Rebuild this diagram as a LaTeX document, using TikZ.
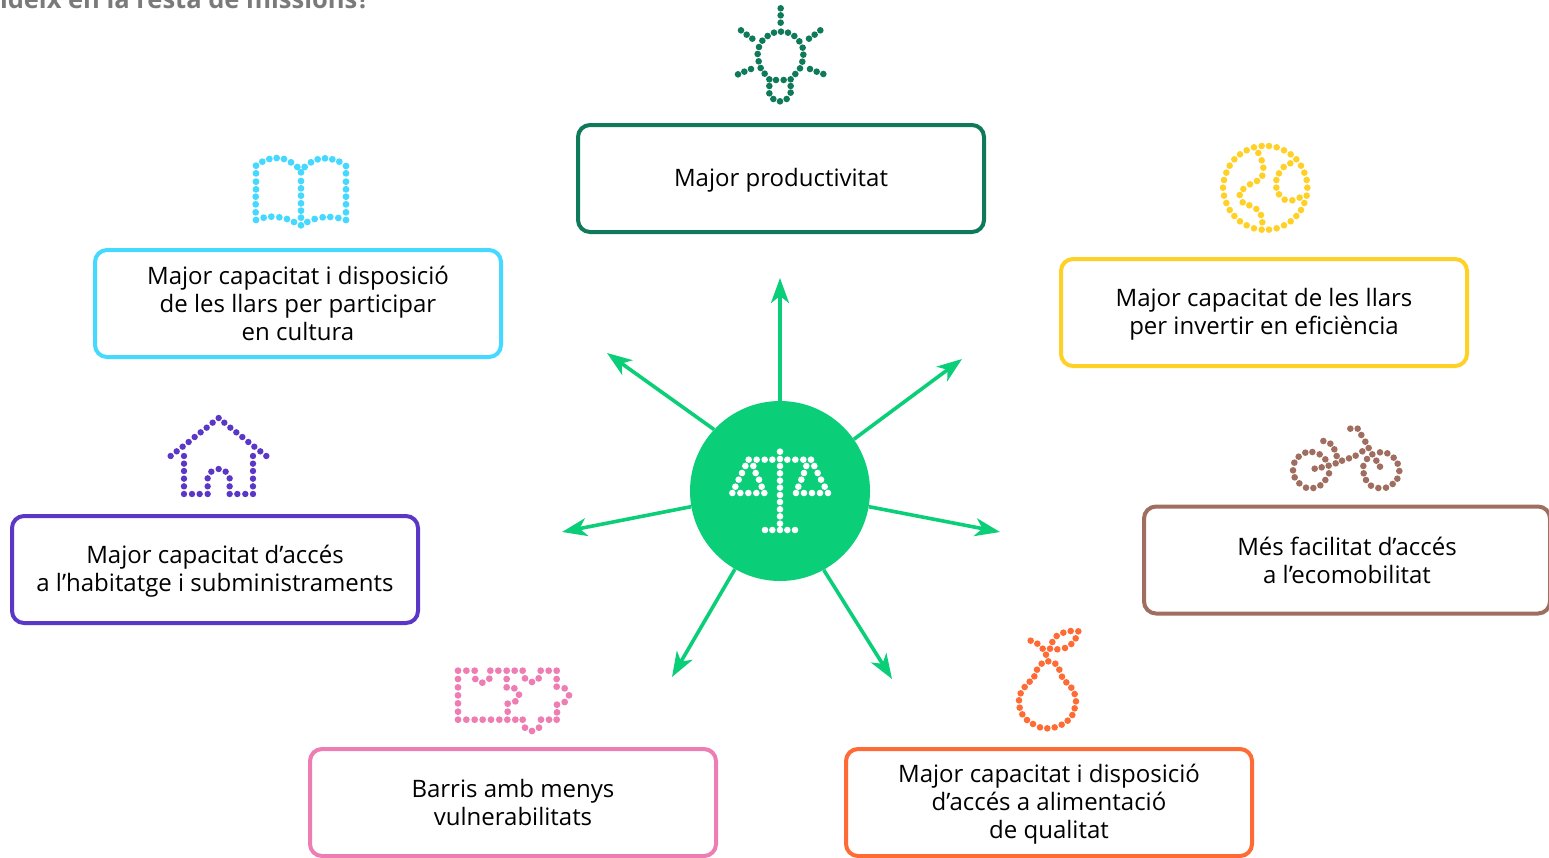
\documentclass[tikz,border=0pt]{standalone}
\usepackage{fontspec}
\setmainfont{Open Sans}
\usetikzlibrary{arrows.meta}
\definecolor{cgreen}{HTML}{0E7A5A}
\definecolor{chub}{HTML}{0BCE78}
\definecolor{ccyan}{HTML}{45D9FF}
\definecolor{cyellow}{HTML}{FFD126}
\definecolor{cbrown}{HTML}{A06E60}
\definecolor{cpurple}{HTML}{5B37C8}
\definecolor{cpink}{HTML}{EE7DB4}
\definecolor{corange}{HTML}{FF6B35}
\definecolor{ctitle}{HTML}{7A7A7A}
\newcommand{\st}{\rule[-3pt]{0pt}{24.8pt}}
\tikzset{
  box/.style={draw=#1,rectangle,rounded corners=12pt,line width=4pt,minimum width=406pt,minimum height=107pt,inner sep=0pt,align=center,text=black,font=\fontsize{24}{28}\selectfont},
  ray/.style={draw=chub,line width=3.6pt,-{Stealth[length=25pt,width=18pt,inset=7pt]}},
  hubnode/.style={circle,fill=chub,minimum size=180pt,inner sep=0pt}
}
\newcommand{\dotset}[5]{%
  \begin{scope}[shift={(#1,#2)},x=0.3333pt,y=-0.3333pt]
    \foreach \px/\py in {#5} \fill[#3] (\px,\py) circle (#4pt);
  \end{scope}}
\begin{document}
\begin{tikzpicture}[x=1pt,y=-1pt]
\clip (0,0) rectangle (1549,857);
\node[anchor=base east,text=ctitle,font=\fontsize{25.5}{28}\selectfont\bfseries] (title) at (373,8) {ideix en la resta de missions?};
\node[box=cgreen] (b1) at (781,178.5) {\st Major productivitat};
\node[box=ccyan] (b2) at (298,303.5) {\st Major capacitat i disposició\\\st de les llars per participar\\\st en cultura};
\node[box=cyellow] (b3) at (1264,312.5) {\st Major capacitat de les llars\\\st per invertir en eficiència};
\node[box=cbrown] (b4) at (1347,560) {\st Més facilitat d’accés\\\st a l’ecomobilitat};
\node[box=cpurple] (b5) at (215,569.5) {\st Major capacitat d’accés\\\st a l’habitatge i subministraments};
\node[box=cpink] (b6) at (513,802.5) {\st Barris amb menys\\\st vulnerabilitats};
\node[box=corange] (b7) at (1049,802.5) {\st Major capacitat i disposició\\\st d’accés a alimentació\\\st de qualitat};
\node[hubnode] (hub) at (780,491) {};
\coordinate (e1) at (780,278);
\coordinate (e2) at (607,353);
\coordinate (e3) at (962,359);
\coordinate (e4) at (562,532);
\coordinate (e5) at (1000,532);
\coordinate (e6) at (672,677);
\coordinate (e7) at (892,679);
\draw[ray] (hub.90.3) -- (e1);
\draw[ray] (hub.137) -- (e2);
\draw[ray] (hub.35) -- (e3);
\draw[ray] (hub.190) -- (e4);
\draw[ray] (hub.-10) -- (e5);
\draw[ray] (hub.-120) -- (e6);
\draw[ray] (hub.-61) -- (e7);
% bulb
\dotset{720}{0}{cgreen}{3.3}{182/25,182/46,182/68,63/91,80/104,97/116,301/91,284/104,267/116,54/223,73/215,93/207,270/207,290/215,310/222,183/95,162/98,143/108,127/122,117/141,113/162,116/184,122/204,134/221,148/238,168/240,191/240,212/238,226/222,240/205,247/185,250/164,248/143,238/124,223/108,204/98,148/258,148/280,160/297,180/304,200/297,212/278,212/258}
% book
\dotset{240}{145}{ccyan}{3.4}{48/62,67/50,88/42,110/39,132/42,153/52,172/66,194/66,213/52,233/43,255/40,277/43,298/50,318/63,48/85,48/110,48/133,47/155,47/178,47/202,48/225,318/85,318/110,318/133,318/155,318/178,318/202,318/225,183/82,183/108,183/130,183/152,183/175,183/197,183/218,183/241,71/218,94/215,118/217,141/222,162/231,202/231,224/222,248/217,271/216,295/219}
% globe
\dotset{1205}{135}{cyellow}{3.3}{170/33,192/33,215/37,237/46,257/58,274/73,288/92,298/113,305/135,307/158,305/182,298/204,288/225,274/243,257/259,237/271,215/280,192/284,170/284,147/280,125/271,105/259,88/243,74/225,64/204,57/182,54/158,57/135,64/113,74/92,88/73,105/58,125/46,147/37,160/54,170/76,175/98,172/122,156/138,135/148,115/162,104/180,113/202,133/211,154/222,168/240,172/262,256/85,236/96,222/115,214/135,214/158,222/178,239/194,262/196,284/188}
% bike
\dotset{1280}{420}{cbrown}{3.3}{76/98,97/96,119/103,136/118,147/160,136/180,121/196,100/204,78/203,58/190,44/172,39/151,43/128,56/110,104/146,125/142,146/137,167/130,186/122,207/115,227/107,247/94,266/84,130/63,151/71,163/88,170/108,211/26,233/26,244/45,256/65,277/103,289/122,300/140,300/97,322/100,341/113,353/131,358/153,352/176,338/192,318/203,295/204,273/197,258/180,251/160,250/138,261/117}
% house
\dotset{160}{410}{cpurple}{3.2}{176/24,158/38,140/53,122/67,104/81,86/96,68/110,50/124,32/138,193/38,211/53,229/67,247/81,265/96,283/110,301/124,319/138,72/138,72/161,72/183,72/206,72/229,72/252,279/138,279/161,279/183,279/206,279/229,279/252,96/252,119/252,143/252,209/252,232/252,256/252,143/229,143/205,154/185,176/177,197/185,209/205,209/229}
% speech
\dotset{445}{660}{cpink}{3.4}{39/32,64/32,89/32,136/32,160/32,185/32,209/32,233/32,287/32,311/32,335/32,39/57,39/82,39/106,39/130,39/155,39/179,64/179,89/179,113/179,138/179,163/179,187/179,211/179,233/179,288/179,312/179,335/179,240/203,261/213,282/203,91/57,112/68,133/56,185/57,185/82,208/85,222/104,211/124,188/131,188/155,240/55,261/66,281/55,335/57,335/80,359/85,372/106,359/126,336/134,336/157}
% pear
\dotset{1005}{620}{corange}{3.3}{77/62,97/71,113/86,135/86,157/88,180/84,199/72,212/55,220/34,197/33,175/38,155/48,142/66,123/104,130/124,110/131,151/131,96/149,163/149,88/169,171/170,74/185,184/187,59/201,199/203,47/220,209/222,42/241,213/244,44/263,209/265,52/283,202/285,66/300,188/302,84/312,170/314,105/322,149/322,127/325}
% scales
\dotset{715}{430}{white}{3.3}{195/65,195/87,195/108,195/130,195/152,195/173,195/195,195/216,195/238,195/259,195/281,195/300,150/300,172/300,217/300,240/300,101/89,125/89,149/89,172/89,217/89,241/89,265/89,288/89,91/108,81/129,71/149,61/170,52/189,115/108,122/129,132/149,140/170,148/189,76/189,100/189,124/189,274/108,267/129,259/149,250/170,243/189,298/108,308/129,318/149,329/170,339/189,267/189,291/189,315/189}
\end{tikzpicture}
\end{document}
